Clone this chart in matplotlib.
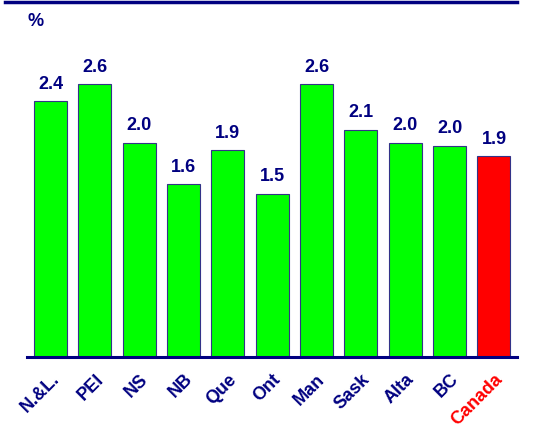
import matplotlib
matplotlib.use("Agg")
import matplotlib.pyplot as plt
from matplotlib.lines import Line2D

provinces = ["N.&L.", "PEI", "NS", "NB", "Que", "Ont", "Man", "Sask", "Alta", "BC", "Canada"]
values = [2.40, 2.56, 2.01, 1.62, 1.94, 1.53, 2.56, 2.13, 2.01, 1.98, 1.88]
colors = ["#00FF00"] * 10 + ["#FF0000"]
label_colors = ["#000080"] * 10 + ["#FF0000"]

NAVY = "#000080"
plt.rcParams["font.family"] = ["Liberation Sans", "DejaVu Sans"]

fig = plt.figure(figsize=(5.37, 4.34), dpi=100)
ax = fig.add_axes([27 / 537, 77 / 434, 490 / 537, 320 / 434])

x = list(range(len(provinces)))
bars = ax.bar(x, values, width=0.745, color=colors, edgecolor="#333388", linewidth=0.8, zorder=2)

for b, v in zip(bars, values):
    ax.annotate(f"{v:.1f}", (b.get_x() + b.get_width() / 2, v), xytext=(0, 6),
                textcoords="offset points", ha="center", va="bottom",
                fontsize=13, fontweight="bold", color=NAVY)

ax.set_xlim(-0.53, 10.52)
ax.set_ylim(0, 3.0)
ax.set_yticks([])
ax.set_xticks(x)
ax.set_xticklabels(provinces, rotation=45, ha="right", rotation_mode="anchor",
                   fontsize=13, fontweight="bold")
for lbl, c in zip(ax.get_xticklabels(), label_colors):
    lbl.set_color(c)
ax.tick_params(axis="x", length=0, pad=10)

for s in ["top", "right", "left"]:
    ax.spines[s].set_visible(False)
ax.spines["bottom"].set_color(NAVY)
ax.spines["bottom"].set_linewidth(2.2)
ax.spines["bottom"].set_zorder(3)

# rule across the top of the slide
fig.add_artist(Line2D([5 / 537, 517 / 537], [1 - 2 / 434, 1 - 2 / 434], color=NAVY, linewidth=2.5))
fig.text(36 / 537, 1 - 22 / 434, "%", ha="center", va="center", fontsize=13,
         fontweight="bold", color=NAVY)

fig.savefig("out.png", dpi=100)
